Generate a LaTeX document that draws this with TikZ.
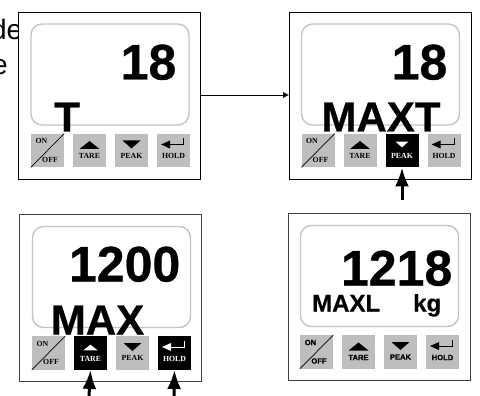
\documentclass[tikz,border=0pt]{standalone}
\usepackage{fontspec}
\setmainfont{Liberation Sans}[BoldFeatures={FakeBold=0.6}]
\newfontfamily\keyserif{Liberation Serif}
\usetikzlibrary{arrows.meta,positioning,calc}
\definecolor{KeyFaceOff}{HTML}{BEBEBE}
\definecolor{KeyInkOff}{HTML}{000000}
\definecolor{KeyFaceLit}{HTML}{000000}
\definecolor{KeyInkLit}{HTML}{FFFFFF}
\definecolor{FrameGrey}{HTML}{C4C4C4}
\def\iconOff{1}
\def\iconLit{.72}
% one row of four keys: name, x and y of first key centre, font, state of TARE, PEAK, HOLD
\newcommand{\keyrow}[6]{%
  \node[key] (#1on) at (#2,#3) {};
  \draw[line width=.7pt] (#1on.south west) -- (#1on.north east);
  \node[keylabel,font=#4] at ($(#1on.center)+(-6,-9.5)$) {ON};
  \node[keylabel,font=#4] at ($(#1on.center)+(2.5,9)$) {OFF};
  \node[key,fill=KeyFace#5] (#1tare) at (#2+42,#3) {};
  \node[keylabel,font=#4,text=KeyInk#5] at ($(#1tare.center)+(0,5.5)$) {TARE};
  \begin{scope}[shift={($(#1tare.center)+(0,-5.5)$)},scale=\csname icon#5\endcsname]
    \fill[KeyInk#5] (-10,4) -- (10,4) -- (0,-4) -- cycle;
  \end{scope}
  \node[key,fill=KeyFace#6] (#1peak) at (#2+84,#3) {};
  \node[keylabel,font=#4,text=KeyInk#6] at ($(#1peak.center)+(0,5)$) {PEAK};
  \begin{scope}[shift={($(#1peak.center)+(0,-6)$)},scale=\csname icon#6\endcsname]
    \fill[KeyInk#6] (-9,-4) -- (9,-4) -- (0,4) -- cycle;
  \end{scope}
}
\newcommand{\holdkey}[5]{%
  \node[key,fill=KeyFace#5] (#1hold) at (#2+126,#3) {};
  \node[keylabel,font=#4,text=KeyInk#5] at ($(#1hold.center)+(0,5.5)$) {HOLD};
  \draw[KeyInk#5,line width=1pt] ($(#1hold.center)+(10,-12)$) -- ++(0,6) -- ++(-16,0);
  \fill[KeyInk#5] ($(#1hold.center)+(-12.5,-6)$) -- ++(9,-4) -- ++(0,8) -- cycle;
}
\begin{document}
\begin{tikzpicture}[
    x=1pt,y=-1pt,
    panel/.style={draw=black,fill=white,line width=.8pt,minimum width=182pt,minimum height=167pt,inner sep=0pt},
    display/.style={draw=FrameGrey,fill=white,line width=1.4pt,rounded corners=11pt,minimum width=158pt,minimum height=101pt,inner sep=0pt},
    key/.style={fill=KeyFaceOff,minimum width=33pt,minimum height=33.5pt,inner sep=0pt},
    keylabel/.style={inner sep=0pt},
    digits/.style={font=\fontsize{50}{50}\bfseries,inner sep=0pt,anchor=base east},
    mode/.style={font=\fontsize{42}{42}\bfseries,inner sep=0pt,anchor=base},
    unit/.style={font=\fontsize{24}{24}\bfseries,inner sep=0pt,anchor=base west},
    note/.style={font=\fontsize{28}{28}\selectfont,inner sep=0pt,anchor=base east},
    link/.style={-{Latex[length=6pt,width=6pt]},line width=.6pt},
    press/.style={-{Latex[length=19pt,width=14pt]},line width=3pt}
  ]
    \useasboundingbox (0,0) rectangle (480,396);
    \fill[white] (0,0) rectangle (480,396);
    \node[note] (word1) at (22.5,39.5) {de};
    \node[note] (word2) at (8,75) {e};

    \node[panel] (panelA) at (109.5,95.5) {};
    \node[display] (dispA) at (110,74.5) {};
    \node[digits] (valA) at (176.5,79.5) {18};
    \keyrow{a}{47.5}{150.5}{\fontsize{7.8}{8}\keyserif\bfseries}{Off}{Off}
    \holdkey{a}{47.5}{150.5}{\fontsize{7.8}{8}\keyserif\bfseries}{Off}
    \node[mode] (modeA) at (67,131.5) {T};

    \node[panel] (panelB) at (380.5,95.5) {};
    \node[display] (dispB) at (380.5,74.5) {};
    \node[digits] (valB) at (447.5,79.5) {18};
    \keyrow{b}{318}{150.5}{\fontsize{7.8}{8}\keyserif\bfseries}{Off}{Lit}
    \holdkey{b}{318}{150.5}{\fontsize{7.8}{8}\keyserif\bfseries}{Off}
    \node[mode] (modeB) at (381,131.5) {MAXT};

    \node[panel,draw=black!75] (panelC) at (110.5,298) {};
    \node[display] (dispC) at (111.5,277) {};
    \node[digits] (valC) at (180.5,281.5) {1200};
    \keyrow{c}{48.5}{353}{\fontsize{7.8}{8}\keyserif\bfseries}{Lit}{Off}
    \holdkey{c}{48.5}{353}{\fontsize{7.8}{8}\keyserif\bfseries}{Lit}
    \node[mode] (modeC) at (97.5,334.5) {MAX};

    \node[panel,draw=black!75] (panelD) at (379.5,297) {};
    \node[display] (dispD) at (379.5,276) {};
    \node[digits] (valD) at (452.5,285.5) {1218};
    \node[unit] (modeD) at (312,311.5) {MAXL};
    \node[unit] (unitD) at (413,311.5) {kg};
    \keyrow{d}{316.5}{352}{\fontsize{7.6}{8}\bfseries}{Off}{Off}
    \holdkey{d}{316.5}{352}{\fontsize{7.6}{8}\bfseries}{Off}

    \coordinate (pressB) at (402,200);
    \coordinate (pressC) at (89,396);
    \coordinate (pressD) at (174,396);
    \draw[link] (panelA.east |- 0,95) -- (panelB.west |- 0,95);
    \draw[press] (pressB) -- (bpeak.south);
    \draw[press] (pressC) -- (ctare.south);
    \draw[press] (pressD) -- (chold.south);
  \end{tikzpicture}
\end{document}
